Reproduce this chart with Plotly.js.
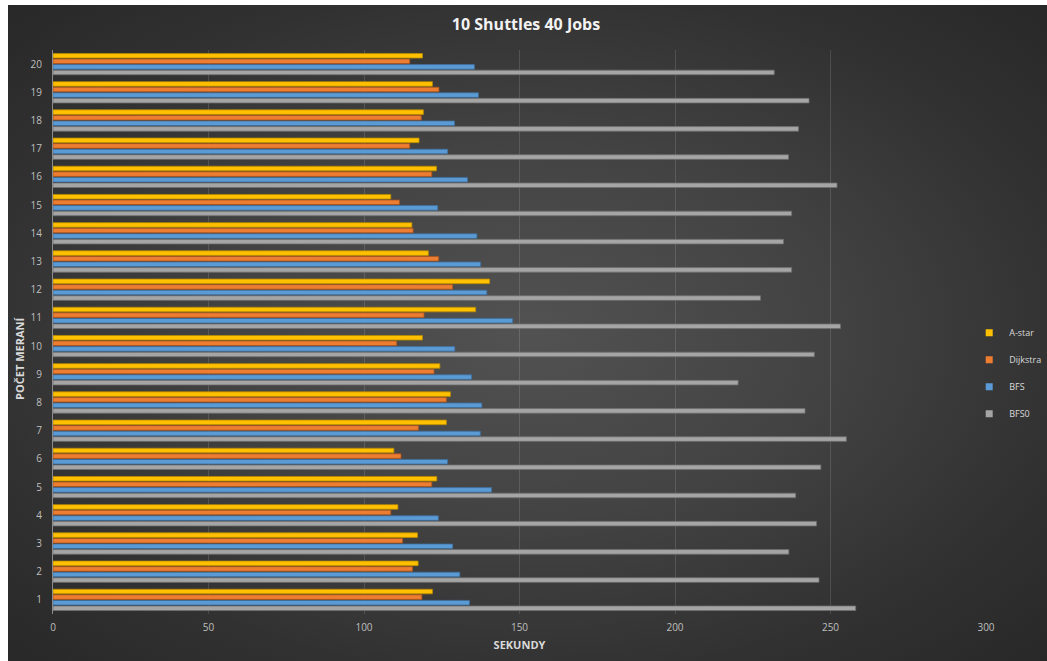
<!DOCTYPE html>
<html>
<head>
<meta charset="utf-8">
<script src="https://cdn.plot.ly/plotly-3.0.1.min.js"></script>
<style>
  html, body { margin: 0; padding: 0; background: #ffffff; width: 1047px; height: 661px; overflow: hidden; }
  #bg { position: absolute; left: 8px; top: 5px; width: 1039px; height: 656px;
        background: radial-gradient(ellipse at 50% 50%, #525252 0%, #434343 40%, #313131 75%, #282828 100%); }
  #chart { position: absolute; left: 0; top: 0; width: 1047px; height: 661px; }
</style>
</head>
<body>
<div id="bg"></div>
<div id="chart"></div>
<script>
const categories = ['1','2','3','4','5','6','7','8','9','10','11','12','13','14','15','16','17','18','19','20'];
const aStar    = [122.0,117.4,117.2,110.9,123.4,109.6,126.5,127.8,124.4,118.8,135.9,140.4,120.7,115.4,108.6,123.3,117.7,119.1,122.0,118.8];
const dijkstra = [118.6,115.6,112.4,108.6,121.8,111.9,117.5,126.5,122.5,110.5,119.3,128.5,124.0,115.8,111.4,121.8,114.7,118.4,124.1,114.7];
const bfs      = [133.9,130.8,128.5,123.9,141.0,126.9,137.4,137.9,134.6,129.2,147.8,139.5,137.5,136.3,123.7,133.3,126.9,129.1,136.8,135.5];
const bfs0     = [258.1,246.3,236.6,245.5,238.8,246.9,255.1,241.8,220.3,244.8,253.2,227.5,237.5,234.9,237.5,252.1,236.5,239.7,243.1,231.9];
const seriesNames = ['BFS0','BFS','Dijkstra','A-star'];
const xTicks = [0,50,100,150,200,250,300];

const seriesData = [bfs0, bfs, dijkstra, aStar];
const colors = ['#A5A5A5','#5B9BD5','#ED7D31','#FFC000'];
const edges  = ['#6e6e6e','#3f6f9c','#a9561e','#b88a00'];
const ranks  = [4, 3, 2, 1];

const traces = seriesData.map((vals, i) => ({
  type: 'bar',
  orientation: 'h',
  name: seriesNames[i],
  legendgroup: seriesNames[i],
  showlegend: false,
  x: vals,
  y: categories,
  marker: { color: colors[i], line: { color: edges[i], width: 0.8 } },
  hoverinfo: 'x+name'
}));

// legend-only entries with small square symbols
seriesNames.forEach((nm, i) => {
  traces.push({
    type: 'scatter',
    mode: 'markers',
    name: nm,
    legendgroup: nm,
    legendrank: ranks[i],
    showlegend: true,
    x: [null],
    y: [null],
    marker: { symbol: 'square', size: 7, color: colors[i] },
    hoverinfo: 'skip'
  });
});

const layout = {
  width: 1047,
  height: 661,
  paper_bgcolor: 'rgba(0,0,0,0)',
  plot_bgcolor: 'rgba(0,0,0,0)',
  margin: { l: 53, r: 61, t: 50, b: 47, pad: 0, autoexpand: false },
  barmode: 'group',
  bargap: 0.21,
  bargroupgap: 0.18,
  showlegend: true,
  font: { family: 'Open Sans, Noto Sans, sans-serif', color: '#bfbfbf', size: 10 },
  title: {
    text: '10 Shuttles 40 Jobs',
    font: { family: 'Open Sans, sans-serif', size: 16, color: '#f2f2f2', weight: 'bold' },
    x: 0.507, xanchor: 'center', y: 0.963, yanchor: 'middle', xref: 'paper', yref: 'container'
  },
  xaxis: {
    range: [0, 300],
    tickvals: xTicks,
    ticktext: xTicks.map(String),
    showgrid: true,
    gridcolor: 'rgba(255,255,255,0.13)',
    gridwidth: 1,
    zeroline: false,
    showline: false,
    ticks: '',
    tickfont: { family: 'Liberation Sans Narrow, Open Sans, sans-serif', size: 10, color: '#bfbfbf' },
    ticklabelstandoff: 6,
    title: { text: 'SEKUNDY', font: { family: 'Liberation Sans Narrow, Open Sans, sans-serif', size: 11, color: '#d9d9d9', weight: 'bold' }, standoff: 8 },
    fixedrange: true
  },
  yaxis: {
    type: 'category',
    categoryorder: 'array',
    categoryarray: categories,
    showgrid: false,
    zeroline: false,
    showline: true,
    linecolor: '#8c8c8c',
    linewidth: 1,
    ticks: '',
    tickfont: { family: 'Open Sans, sans-serif', size: 10, color: '#bfbfbf' },
    ticklabelstandoff: 8,
    fixedrange: true
  },
  annotations: [{
    text: 'POČET MERANÍ',
    xref: 'paper', yref: 'paper',
    x: -0.0354, y: 0.454,
    xanchor: 'center', yanchor: 'middle',
    textangle: -90,
    showarrow: false,
    font: { family: 'Open Sans, sans-serif', size: 11, color: '#d9d9d9', weight: 'bold' }
  }],
  legend: {
    x: 0.982, xanchor: 'left',
    y: 0.427, yanchor: 'middle',
    traceorder: 'grouped',
    tracegroupgap: 8,
    bgcolor: 'rgba(0,0,0,0)',
    font: { family: 'Open Sans, sans-serif', size: 9, color: '#d9d9d9' },
    itemwidth: 30
  }
};

Plotly.newPlot('chart', traces, layout, { displayModeBar: false });
</script>
</body>
</html>
